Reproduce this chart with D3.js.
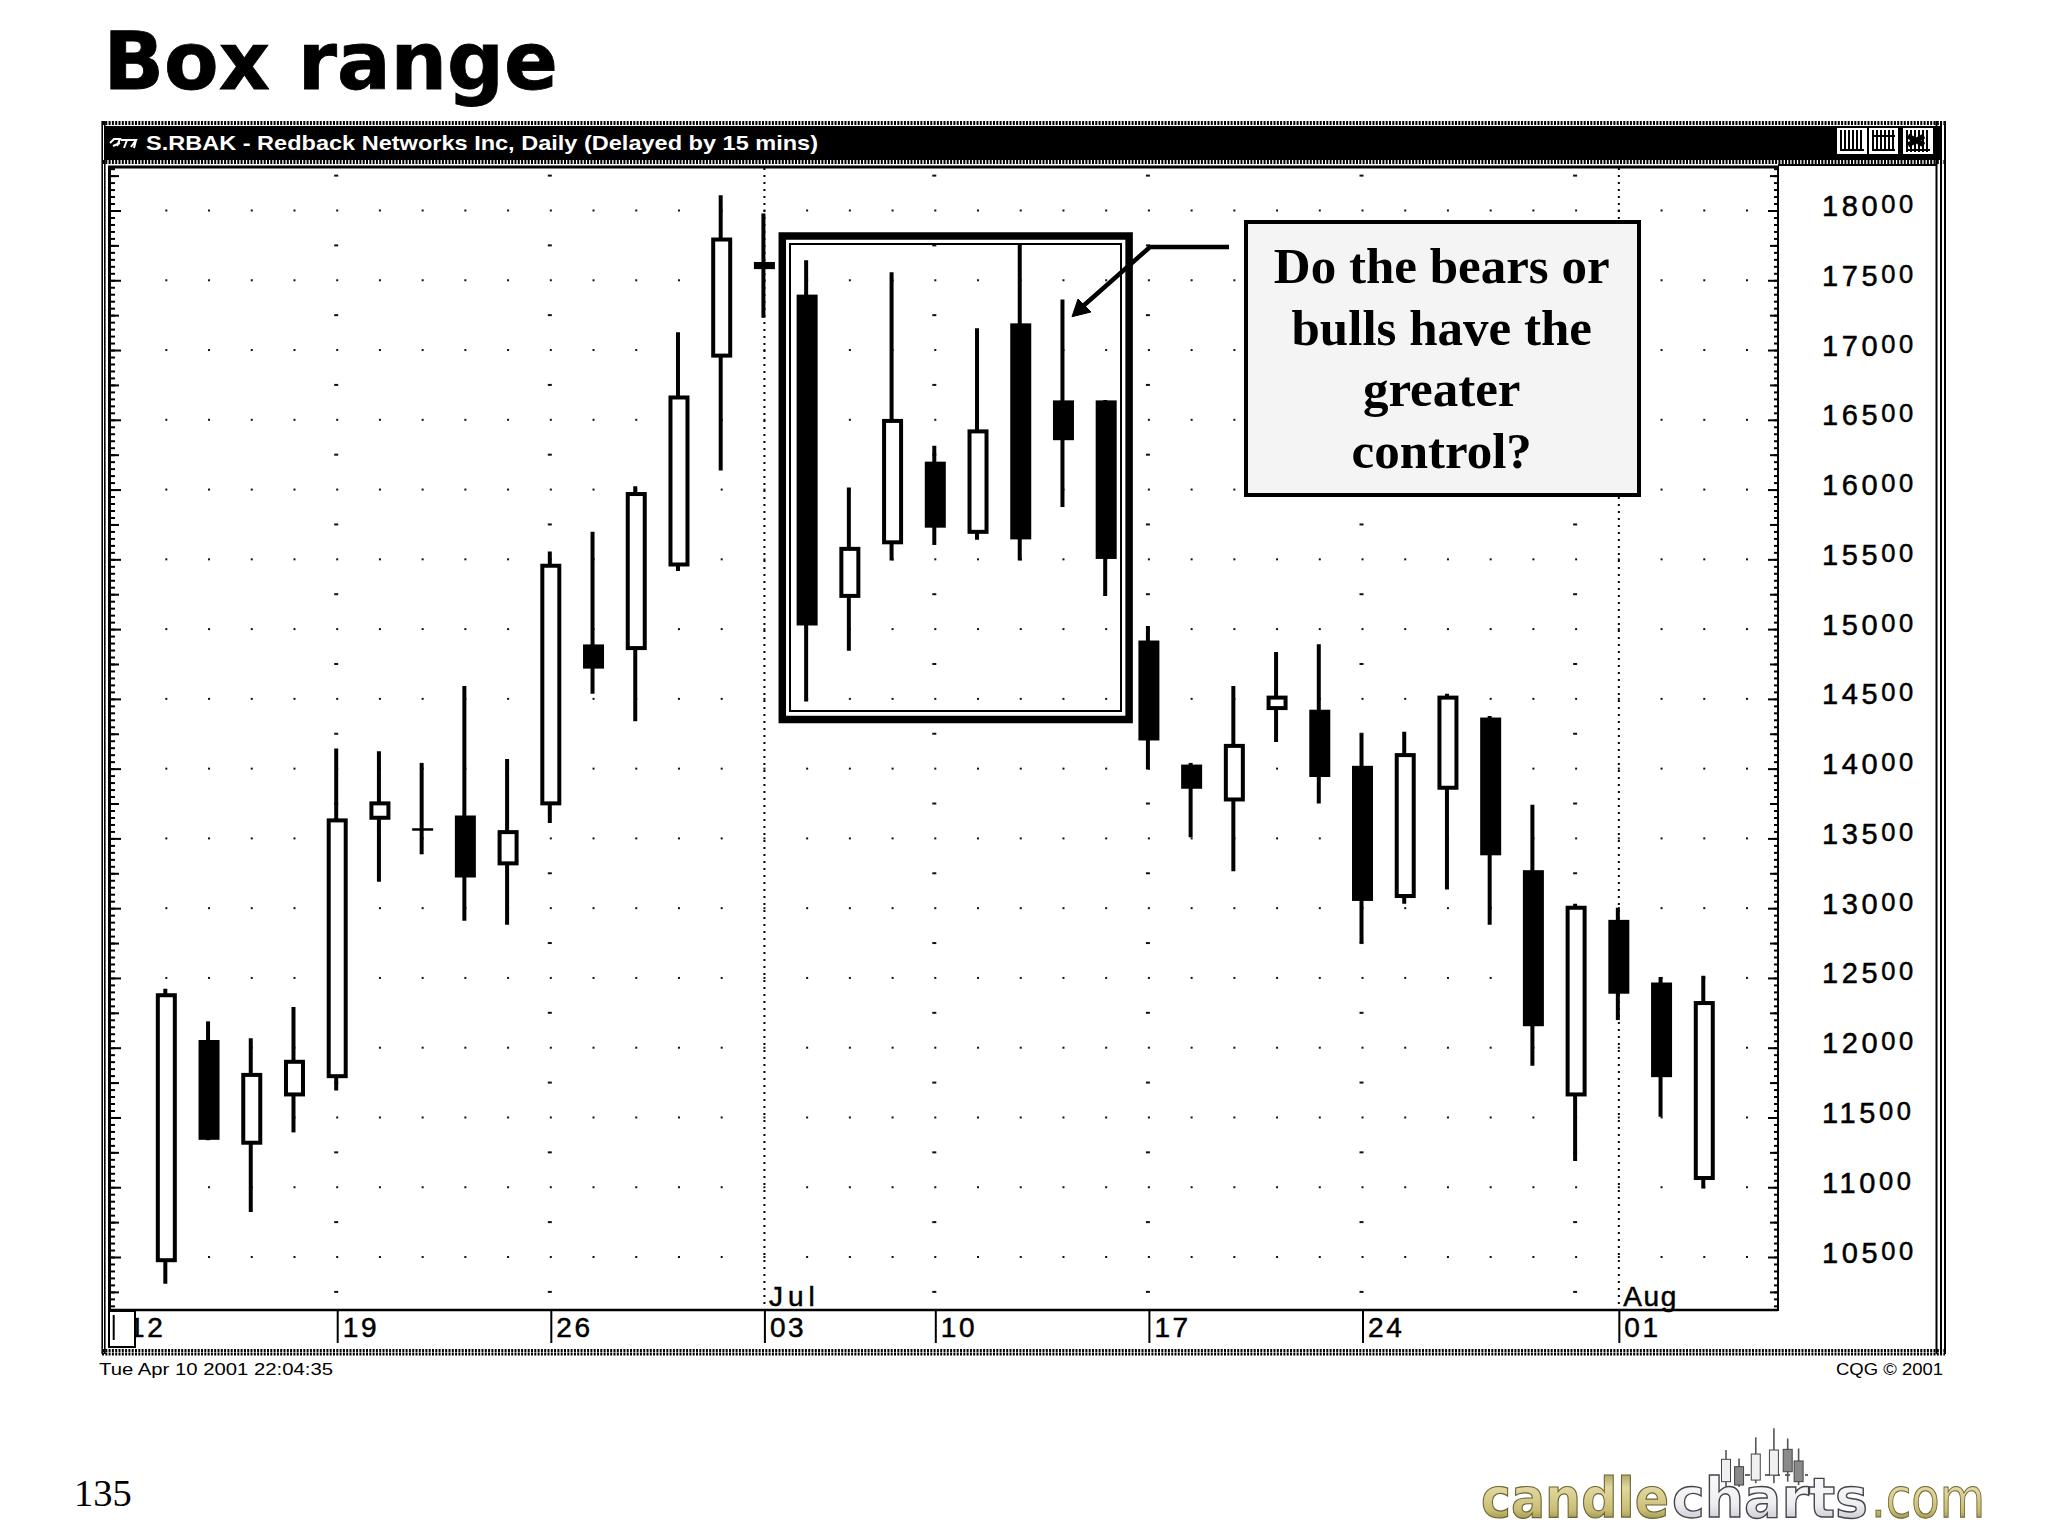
<!DOCTYPE html>
<html>
<head>
<meta charset="utf-8">
<script src="https://cdn.jsdelivr.net/npm/d3@7/dist/d3.min.js"></script>
<style>html,body{margin:0;padding:0;background:#fff}svg{display:block}</style>
</head>
<body>
<script>
const tradingDays = ["Jun 12","Jun 13","Jun 14","Jun 15","Jun 18","Jun 19","Jun 20","Jun 21","Jun 22","Jun 25","Jun 26","Jun 27","Jun 28","Jun 29","Jul 2","Jul 3","Jul 5","Jul 6","Jul 9","Jul 10","Jul 11","Jul 12","Jul 13","Jul 16","Jul 17","Jul 18","Jul 19","Jul 20","Jul 23","Jul 24","Jul 25","Jul 26","Jul 27","Jul 30","Jul 31","Aug 1","Aug 2","Aug 3","Aug 6"];
const candleDays = tradingDays.slice(1, 38);
const opens  = [10477,12048,11319,11665,11796,13648,13564,13657,13321,13751,14883,14864,15463,16960,17624,17390,15238,15622,16193,15697,17184,16632,16632,14911,14022,13779,14434,14415,14013,13087,13863,14359,13265,11665,12909,12460,11066];
const highs  = [12423,12189,12067,12292,14144,14125,14041,14593,14069,15556,15697,16024,17128,18110,17979,17643,16015,17558,16314,17156,17755,17362,16642,15023,14041,14593,14836,14892,14247,14265,14537,14378,13742,13031,13003,12507,12516];
const lows   = [10308,11337,10823,11393,11693,13190,13386,12909,12881,13611,14537,14340,15416,16136,17231,14481,14845,15491,15603,15641,15491,15875,15238,13994,13508,13265,14191,13751,12750,13031,13134,12881,11871,11188,12198,11506,10991];
const closes = [12376,11347,11805,11899,13629,13751,13564,13227,13545,15454,14724,15968,16660,17792,17587,15033,15575,16492,15734,16417,15650,16361,15510,14209,13863,14163,14509,13947,13059,14097,14509,13386,12161,13003,12394,11796,12320];
const weekTicks = ["Jun 12","Jun 19","Jun 26","Jul 3","Jul 10","Jul 17","Jul 24","Aug 1"];
const weekLabels = ["12","19","26","03","10","17","24","01"];
const dashDays = ["Jun 19","Jun 26","Jul 10","Jul 17","Jul 24","Jul 31"];
const monthDays = ["Jul 3","Aug 1"];
const monthLabels = ["Jul","Aug"];
const priceLabels = [18000,17500,17000,16500,16000,15500,15000,14500,14000,13500,13000,12500,12000,11500,11000,10500];
const midPrices = [18250,17750,17250,16750,16250,15750,15250,14750,14250,13750,13250,12750,12250,11750,11250,10750,10250];
const minorPrices = d3.range(10150, 18301, 50);
const calloutLines = ["Do the bears or","bulls have the","greater","control?"];
const logoSlot = [0,0.9,2.05,3.3,4.25,5];
const logoHigh = [64.5,51,85,99.5,83,67];
const logoTop  = [49.5,37.6,58,64.5,65.6,46.8];
const logoBot  = [13.4,8,16,24,29.5,13.4];
const logoLow  = [6,5,11,11,13.4,8];
const logoDark = [false,true,false,false,true,true];

const svg = d3.select("body").append("svg").attr("width",2048).attr("height",1536);
const x = d3.scalePoint().domain(tradingDays).range([123.6,1747]);
const y = d3.scaleLinear().domain([10500,18000]).range([1257,210.5]);
const ink = "#000";

const line=(g,x1,y1,x2,y2,w,extra)=>{const l=g.append("line").attr("x1",x1).attr("y1",y1).attr("x2",x2).attr("y2",y2).attr("stroke",ink).attr("stroke-width",w);if(extra)l.attr("stroke-dasharray",extra);return l;};

// title
svg.append("text").attr("x",103.5).attr("y",89).attr("font-family","DejaVu Sans").attr("font-weight",700).attr("font-size",79.5).attr("fill",ink).attr("stroke",ink).attr("stroke-width",0.8).text("Box range");

// window frame
const frame = svg.append("g");
frame.append("rect").attr("x",104).attr("y",126).attr("width",1836).attr("height",34).attr("fill",ink);
[123,162].forEach(v=>line(frame,102,v,1945,v,4,"2 1.3"));
[1350.5,1354].forEach(v=>line(frame,102,v,1945,v,3,"2 1.3"));
[[102.2,1.6],[104.8,1.6],[1936.5,2],[1941,2],[1945,2]].forEach(d=>line(frame,d[0],121,d[0],1354,d[1]));
line(frame,1778,165,1936,165,2);
frame.append("text").attr("x",146).attr("y",150).attr("font-family","Liberation Sans").attr("font-weight",700).attr("font-size",21).attr("fill","#fff").attr("textLength",672).attr("lengthAdjust","spacingAndGlyphs").text("S.RBAK - Redback Networks Inc, Daily (Delayed by 15 mins)");
frame.append("path").attr("d","M110 143 L114 139 L120 139 L117 146 M113 146 L120 143 M121 140 L136 140 L131 147 M127 140 L124 148 M136 140 L134 148").attr("fill","none").attr("stroke","#fff").attr("stroke-width",2);
[[1837,1867],[1869,1898],[1903,1933]].forEach((b,i)=>{
  frame.append("rect").attr("x",b[0]).attr("y",128).attr("width",b[1]-b[0]).attr("height",26).attr("fill","#fff");
  d3.range(b[0]+4,b[1]-3,4).forEach(v=>line(frame,v,130,v,i==2?152:150,2));
  line(frame,b[0]+3,i==1?136:150,b[1]-3,i==1?136:150,2);
  if(i==1) line(frame,b[0]+3,150,b[1]-3,150,2);
  if(i==2) {line(frame,b[0]+5,136,b[1]-9,145,5);line(frame,b[0]+5,145,b[1]-9,136,5);}
});

// grid
const grid = svg.append("g");
tradingDays.slice(1).forEach(d=>priceLabels.forEach(p=>{
  grid.append("rect").attr("x",x(d)-1).attr("y",y(p)-1).attr("width",2).attr("height",2).attr("fill","#111");
}));
dashDays.forEach(d=>midPrices.forEach(p=>{
  grid.append("rect").attr("x",x(d)-3).attr("y",y(p)-1).attr("width",4).attr("height",2).attr("fill","#111");
}));
monthDays.forEach(d=>line(grid,x(d),168,x(d),1310,2,"2 5"));

// axis frame
const axes = svg.append("g");
const styleAxis = g=>{g.select(".domain").remove();g.selectAll(".tick line").attr("stroke",ink).attr("stroke-width",2);};
[[minorPrices,4],[midPrices,8],[priceLabels,10]].forEach(([vals,len])=>{
  axes.append("g").attr("transform","translate(111,0)").call(d3.axisRight(y).tickValues(vals).tickSize(len).tickFormat("")).call(styleAxis);
  axes.append("g").attr("transform","translate(1778,0)").call(d3.axisLeft(y).tickValues(vals).tickSize(len).tickFormat("")).call(styleAxis);
});
line(axes,109.5,166,109.5,1347,3);
line(axes,108,167,1778,167,3);
line(axes,1778,166,1778,1311,2);
line(axes,108,1310,1778,1310,2.5);

// price labels
const priceAxis = axes.append("g").attr("transform","translate(1822,0)")
  .call(d3.axisRight(y).tickValues(priceLabels).tickSize(0).tickPadding(0).tickFormat(d3.format("d")));
priceAxis.select(".domain").remove();
priceAxis.selectAll("text").each(function(d){
  const s=String(d), t=d3.select(this);
  t.text(null).attr("dy",null).attr("y",5).attr("font-family","Liberation Sans").attr("font-size",29).attr("letter-spacing",3.6).attr("fill",ink).attr("stroke",ink).attr("stroke-width",0.5).attr("text-anchor","start");
  t.append("tspan").text(s.slice(0,3));
  t.append("tspan").attr("font-size",25.5).attr("dy",-3).text(s.slice(3));
});

// date axis
const dateAxis = axes.append("g").attr("transform","translate(0,1310)")
  .call(d3.axisBottom(x).tickValues(weekTicks).tickSize(33).tickPadding(0).tickFormat((d,i)=>weekLabels[i]));
dateAxis.select(".domain").remove();
dateAxis.selectAll(".tick line").attr("stroke",ink).attr("stroke-width",2);
dateAxis.selectAll("text").attr("text-anchor","start").attr("x",5).attr("y",27).attr("dy",null).attr("font-family","Liberation Sans").attr("font-size",28).attr("letter-spacing",2.6).attr("fill",ink).attr("stroke",ink).attr("stroke-width",0.5);
monthDays.forEach((d,i)=>axes.append("text").attr("x",x(d)+4.5).attr("y",1305.5).attr("font-family","Liberation Sans").attr("font-size",28).attr("letter-spacing",i==0?5:1.6).attr("fill",ink).attr("stroke",ink).attr("stroke-width",0.5).text(monthLabels[i]));
axes.append("rect").attr("x",109).attr("y",1311).attr("width",26).attr("height",36).attr("fill","#fff").attr("stroke",ink).attr("stroke-width",2);
line(axes,113.7,1315,113.7,1340,2);

// candles
const candles = svg.append("g");
candleDays.forEach((d,i)=>{
  const cx=x(d), o=opens[i], c=closes[i], up=c>o, doji=Math.abs(c-o)<1;
  candles.append("line").attr("x1",cx-1).attr("x2",cx-1).attr("y1",y(highs[i])).attr("y2",y(lows[i])).attr("stroke",ink).attr("stroke-width",4);
  const top=y(Math.max(o,c)), bot=y(Math.min(o,c));
  if(doji) candles.append("line").attr("x1",cx-10.5).attr("x2",cx+10.5).attr("y1",top).attr("y2",top).attr("stroke",ink).attr("stroke-width",2.5);
  else if(up) candles.append("rect").attr("x",cx-8.5).attr("y",top).attr("width",17).attr("height",bot-top).attr("fill","#fff").attr("stroke",ink).attr("stroke-width",4);
  else candles.append("rect").attr("x",cx-10.5).attr("y",top-1).attr("width",21).attr("height",Math.max(bot-top+2,7)).attr("fill",ink);
});

// box
const bx=svg.append("g").attr("fill","none").attr("stroke",ink);
bx.append("rect").attr("x",782.3).attr("y",236).attr("width",346.8).attr("height",483.5).attr("stroke-width",7.5);
bx.append("rect").attr("x",790).attr("y",244).attr("width",331).attr("height",467).attr("stroke-width",2);

// arrow
const ar=svg.append("g");
ar.append("path").attr("d","M1229 247 L1150 247 L1082 307").attr("fill","none").attr("stroke",ink).attr("stroke-width",4.5);
ar.append("path").attr("d","M1072 316.7 L1078 299 L1091 312 Z").attr("fill",ink).attr("stroke",ink).attr("stroke-width",1);

// callout
const co=svg.append("g");
co.append("rect").attr("x",1246).attr("y",222).attr("width",393).attr("height",273).attr("fill","#f4f4f4").attr("stroke",ink).attr("stroke-width",4);
const calloutY = d3.scalePoint().domain(calloutLines).range([283,468]);
calloutLines.forEach(t=>co.append("text").attr("x",1441.7).attr("y",calloutY(t)).attr("text-anchor","middle").attr("font-family","Liberation Serif").attr("font-weight",700).attr("font-size",51).attr("fill",ink).text(t));

// footer text
svg.append("text").attr("x",99).attr("y",1375).attr("font-family","Liberation Sans").attr("font-size",16).attr("textLength",234).attr("lengthAdjust","spacingAndGlyphs").attr("fill",ink).text("Tue Apr 10 2001 22:04:35");
svg.append("text").attr("x",1836).attr("y",1375).attr("font-family","Liberation Sans").attr("font-size",16).attr("textLength",107).attr("lengthAdjust","spacingAndGlyphs").attr("fill",ink).text("CQG © 2001");
svg.append("text").attr("x",74).attr("y",1506).attr("font-family","Liberation Serif").attr("font-size",38.5).attr("fill",ink).text("135");

// logo
const defs=svg.append("defs");
const grad=(id,stops)=>{const g=defs.append("linearGradient").attr("id",id).attr("x1",0).attr("y1",0).attr("x2",0).attr("y2",1);stops.forEach(s=>g.append("stop").attr("offset",s[0]).attr("stop-color",s[1]));};
grad("gold",[[0,"#8e8448"],[0.35,"#e2d8a0"],[0.7,"#c9bd73"],[1,"#6f6630"]]);
grad("silver",[[0,"#ffffff"],[0.6,"#eeeef2"],[1,"#b5b5bf"]]);
const logo=svg.append("g");
const logoFont=(t,xp,len,fill,stroke,w,weight)=>logo.append("text").attr("x",xp).attr("y",1517).attr("font-family","DejaVu Sans").attr("font-weight",weight).attr("font-size",56).attr("textLength",len).attr("lengthAdjust","spacingAndGlyphs").attr("fill",fill).attr("stroke",stroke).attr("stroke-width",w).text(t);
logoFont("candle",1481,188,"url(#gold)","#6d6534",1.2,700);
logoFont("charts",1672,196,"url(#silver)","#44444c",1.4,700);
logoFont(".com",1871,114,"url(#gold)","#6d6534",1,400);
const lx=d3.scaleLinear().domain([0,5]).range([1726,1798.6]);
const ly=d3.scaleLinear().domain([0,100]).range([1490,1428]);
logo.append("line").attr("x1",1745).attr("x2",1808).attr("y1",1475).attr("y2",1475).attr("stroke","#666").attr("stroke-width",2).attr("stroke-dasharray","5 5");
logoHigh.forEach((h,i)=>{
  const cx=lx(logoSlot[i]);
  logo.append("line").attr("x1",cx).attr("x2",cx).attr("y1",ly(h)).attr("y2",ly(logoLow[i])).attr("stroke","#555").attr("stroke-width",1.6);
  logo.append("rect").attr("x",cx-4.5).attr("y",ly(logoTop[i])).attr("width",9).attr("height",ly(logoBot[i])-ly(logoTop[i])).attr("fill",logoDark[i]?"#8a8a8a":"#f0f0f0").attr("stroke","#444").attr("stroke-width",1);
});
</script>
</body>
</html>
